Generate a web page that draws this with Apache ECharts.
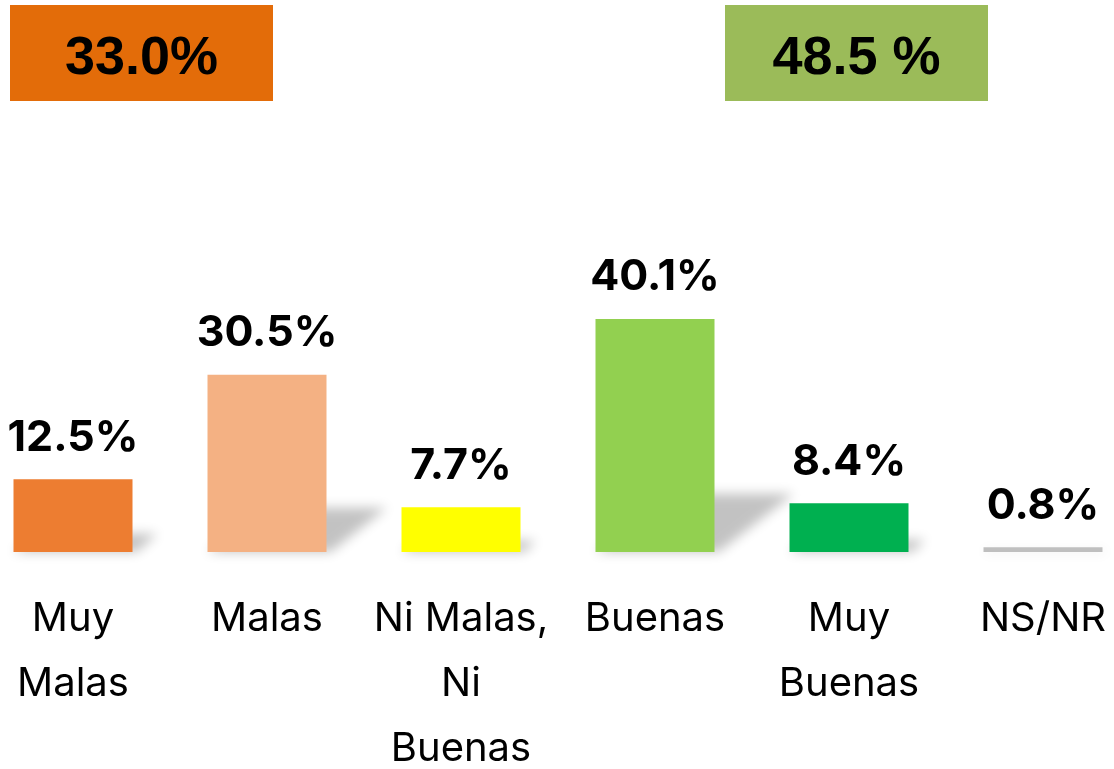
<!DOCTYPE html>
<html>
<head>
<meta charset="utf-8">
<script src="https://cdn.jsdelivr.net/npm/echarts@6/dist/echarts.min.js"></script>
<style>
html, body { margin: 0; padding: 0; background: #fff; }
#main { width: 1114px; height: 769px; }
</style>
</head>
<body>
<div id="main"></div>
<script>
// categorias y porcentajes
var categorias = ['Muy\nMalas', 'Malas', 'Ni Malas,\nNi\nBuenas', 'Buenas', 'Muy\nBuenas', 'NS/NR'];
var valores = [12.5, 30.5, 7.7, 40.1, 8.4, 0.8];
var colores = ['#ED7D31', '#F4B183', '#FFFF00', '#92D050', '#00B050', '#BFBFBF'];
// totales de arriba
var totales = ['33.0%', '48.5 %'];
var coloresTotales = ['#E36C09', '#9BBB59'];

var myChart = echarts.init(document.getElementById('main'));
myChart.setOption({
    animation : false,
    grid : {
	left : -24,
	top : 0,
	width : 1164,
	bottom : 217,
	outerBoundsMode : 'none',
	containLabel : false
    },
    xAxis : {
	type : 'category',
	data : categorias,
	axisLine : { show : false },
	axisTick : { show : false },
	axisLabel : {
	    interval : 0,
	    margin : 34,
	    fontFamily : 'Inter',
	    fontSize : 40,
	    lineHeight : 65,
	    color : '#000'
	}
    },
    yAxis : {
	type : 'value',
	min : 0,
	max : 95,
	show : false,
	splitLine : { show : false }
    },
    graphic : [0, 1].map(function(i) {
	return {
	    type : 'group',
	    left : i == 0 ? 10 : 725,
	    top : 5,
	    children : [ {
		type : 'rect',
		shape : { x : 0, y : 0, width : 263, height : 96 },
		style : { fill : coloresTotales[i] }
	    }, {
		type : 'text',
		x : 131.5,
		y : 54,
		style : {
		    text : totales[i],
		    fill : '#000',
		    font : 'bold 54px "Liberation Sans"',
		    align : 'center',
		    verticalAlign : 'middle'
		}
	    } ]
	};
    }),
    series : [ {
	// sombra (solo se ve la sombra difuminada, la forma queda fuera)
	type : 'custom',
	z : 1,
	clip : false,
	data : valores.map(function(v, i) { return [i, v]; }),
	renderItem : function(params, api) {
	    var base = api.coord([api.value(0), 0]);
	    var top = api.coord([api.value(0), api.value(1)]);
	    var h = base[1] - top[1];
	    var off = 3000;
	    var x0 = base[0] - 59.5 - off, x1 = base[0] + 59.5 - off;
	    var dx = h * 0.34, dy = h * 0.25;
	    return {
		type : 'polygon',
		shape : {
		    points : [ [x0, base[1]], [x1 + 4, base[1]], [x1 + dx, base[1] - dy], [x0 + dx, base[1] - dy] ]
		},
		style : {
		    fill : '#000',
		    shadowBlur : 12,
		    shadowOffsetX : off,
		    shadowColor : 'rgba(0,0,0,0.24)'
		}
	    };
	}
    }, {
	type : 'bar',
	z : 2,
	barWidth : 119,
	data : valores.map(function(v, i) {
	    return { value : v, itemStyle : { color : colores[i] } };
	}),
	label : {
	    show : true,
	    position : 'top',
	    distance : 20,
	    formatter : '{c}%',
	    fontFamily : 'Inter',
	    fontWeight : 'bold',
	    fontSize : 43,
	    color : '#000'
	}
    } ]
});
</script>
</body>
</html>
